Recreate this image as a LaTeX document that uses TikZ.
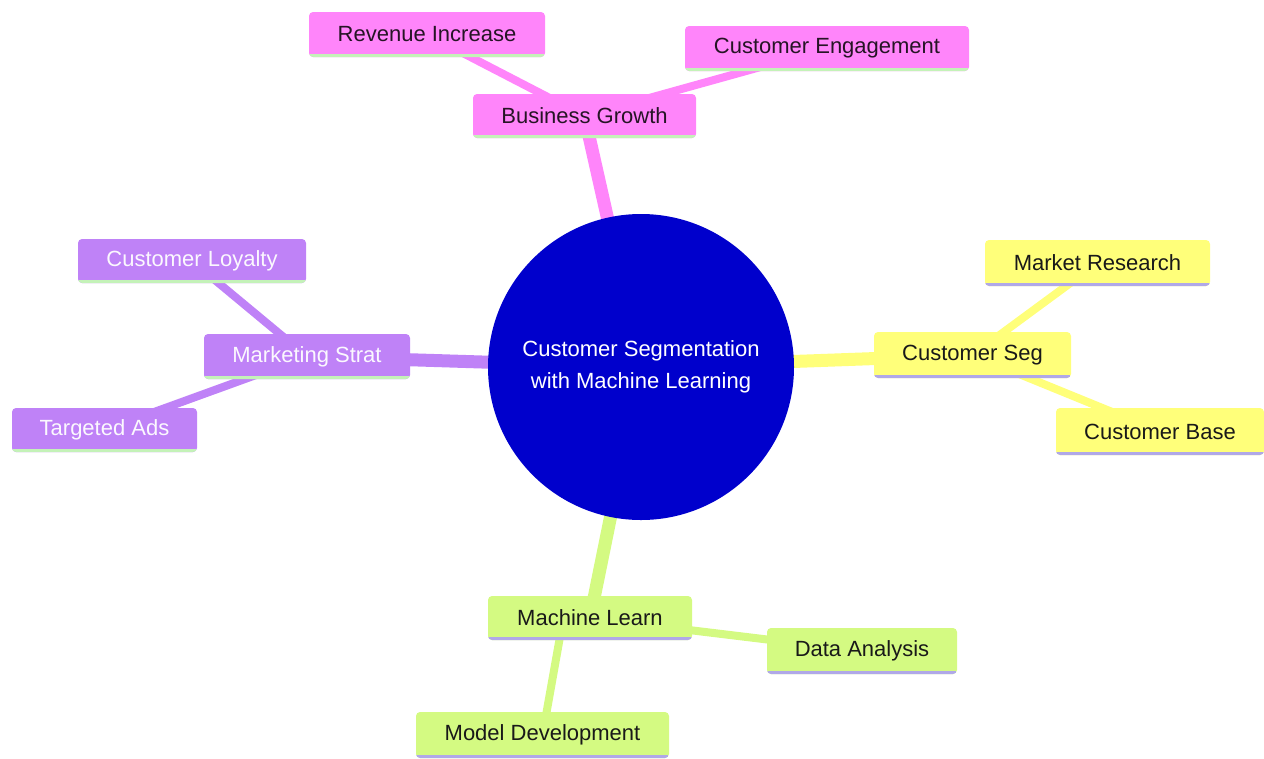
\documentclass[tikz,border=0pt]{standalone}
\usepackage{fontspec}
\setmainfont{Liberation Sans}
\usetikzlibrary{backgrounds}
\definecolor{pinkF}{HTML}{FF85FA}
\definecolor{yelF}{HTML}{FFFF7A}
\definecolor{purF}{HTML}{BF82F7}
\definecolor{grnF}{HTML}{D4FA82}
\definecolor{lineG}{HTML}{C4F2B8}
\definecolor{lineL}{HTML}{B0A8E8}
\definecolor{rootB}{HTML}{0000CC}
\tikzset{
  mm/.style={rectangle, rounded corners=3pt, inner sep=0pt,
    font=\fontsize{16.5}{20}\selectfont},
  bw/.style={minimum width=#1*0.75pt},
  bh/.style={minimum height=#1*0.75pt},
  uline/.style={path picture={\draw[#1, line width=4.5pt]
    (path picture bounding box.south west) -- (path picture bounding box.south east);}},
  pinkbox/.style={mm, fill=pinkF, text=black!85!pinkF, uline=lineG},
  yelbox/.style={mm, fill=yelF, text=black!90, uline=lineL},
  purbox/.style={mm, fill=purF, text=white!94!purF, uline=lineG},
  grnbox/.style={mm, fill=grnF, text=black!90, uline=lineL},
  e1/.style={line width=9.75pt, #1},
  e2/.style={line width=6pt, #1},
}
\begin{document}
\begin{tikzpicture}[x=0.75pt,y=-0.75pt]
\useasboundingbox (0,0) rectangle (1264,758);
\node[circle, fill=rootB, minimum size=306*0.75pt, inner sep=0pt, text=white, align=center,
  font=\fontsize{16.5}{24}\selectfont] (root) at (641,367) {Customer Segmentation\\with Machine Learning};
% Business growth
\node[pinkbox, bw=223, bh=44] (bg) at (584.5,116) {Business Growth};
\node[pinkbox, bw=236, bh=45] (ri) at (427,34.5) {Revenue Increase};
\node[pinkbox, bw=284, bh=45] (ce) at (827,48.5) {Customer Engagement};
% Customer seg
\node[yelbox, bw=197, bh=46] (cs) at (972.5,355) {Customer Seg};
\node[yelbox, bw=225, bh=46] (mr) at (1097.5,263) {Market Research};
\node[yelbox, bw=208, bh=47] (cb) at (1160,431.5) {Customer Base};
% Marketing strat
\node[purbox, bw=206, bh=45] (ms) at (307,356.5) {Marketing Strat};
\node[purbox, bw=228, bh=44] (cl) at (192,261) {Customer Loyalty};
\node[purbox, bw=185, bh=44] (ta) at (104.5,430) {Targeted Ads};
% Machine learn
\node[grnbox, bw=204, bh=44] (ml) at (590,618) {Machine Learn};
\node[grnbox, bw=190, bh=46] (da) at (862,651) {Data Analysis};
\node[grnbox, bw=253, bh=46] (md) at (542.5,735) {Model Development};
\begin{pgfonlayer}{background}
\draw[e1=pinkF] (root.center) -- (bg.center);
\draw[e1=yelF] (root.center) -- (cs.center);
\draw[e1=purF] (root.center) -- (ms.center);
\draw[e1=grnF] (root.center) -- (ml.center);
\draw[e2=pinkF] (bg.center) -- (ri.center);
\draw[e2=pinkF] (bg.center) -- (ce.center);
\draw[e2=yelF] (cs.center) -- (mr.center);
\draw[e2=yelF] (cs.center) -- (cb.center);
\draw[e2=purF] (ms.center) -- (cl.center);
\draw[e2=purF] (ms.center) -- (ta.center);
\draw[e2=grnF] (ml.center) -- (da.center);
\draw[e2=grnF] ([xshift=-20pt]ml.center) -- (md.center);
\end{pgfonlayer}
\end{tikzpicture}
\end{document}
